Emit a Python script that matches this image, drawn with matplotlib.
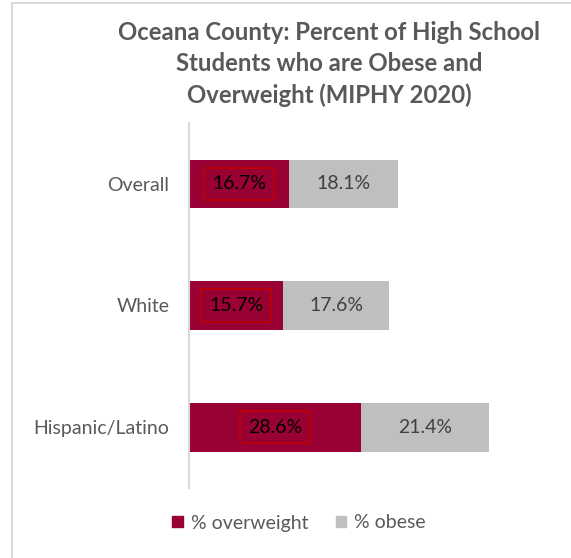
import matplotlib
matplotlib.use("Agg")
import matplotlib.pyplot as plt
from matplotlib.patches import Rectangle, Patch

categories = ["Overall", "White", "Hispanic/Latino"]
overweight = [16.7, 15.7, 28.6]
obese = [18.1, 17.6, 21.4]
series_names = ["% overweight", "% obese"]
title = "Oceana County: Percent of High School\nStudents who are Obese and\nOverweight (MIPHY 2020)"

C_OVER = "#990033"
C_OBESE = "#BFBFBF"
TXT = "#595959"

plt.rcParams['font.family'] = ['Lato', 'DejaVu Sans']

W, H = 571, 558
fig = plt.figure(figsize=(W/100, H/100), dpi=100)
fig.patch.set_facecolor("white")

# chart border (left/top visible)
fig.patches.append(Rectangle((11.5/W, -0.05), 1.2, (H-2.5)/H + 0.05, transform=fig.transFigure,
                             fill=False, edgecolor="#D9D9D9", linewidth=1.5))

ax = fig.add_axes([189/W, (H-488)/H, 360/W, 365/H])
y = list(range(len(categories)))
ax.barh(y, overweight, height=0.4, color=C_OVER, label=series_names[0])
ax.barh(y, obese, left=overweight, height=0.4, color=C_OBESE, label=series_names[1])
ax.set_ylim(2.5, -0.5)
ax.set_xlim(0, 60)

for i, (a, b) in enumerate(zip(overweight, obese)):
    ax.text(a/2, i, f"{a:.1f}%", ha="center", va="center", fontsize=14, color="black",
            bbox=dict(boxstyle="square,pad=0.4", fc="none", ec="#C00000", lw=1.2))
    ax.text(a + b/2, i, f"{b:.1f}%", ha="center", va="center", fontsize=14, color="#404040")

ax.set_yticks(y)
ax.set_yticklabels(categories, fontsize=14, color=TXT)
ax.tick_params(axis="y", length=0, pad=14)
ax.set_xticks([])
for s in ["top", "right", "bottom"]:
    ax.spines[s].set_visible(False)
ax.spines["left"].set_color("#D9D9D9")
ax.spines["left"].set_linewidth(1.5)

fig.text(329/W, 1 - 64/H, title, ha="center", va="center", fontsize=17.2, fontweight="bold",
         color=TXT, linespacing=1.45)

handles = [Patch(color=C_OVER), Patch(color=C_OBESE)]
fig.legend(handles, series_names, loc="center", bbox_to_anchor=(299/W, 1 - 523/H), ncol=2,
           frameon=False, fontsize=14, labelcolor=TXT, handlelength=0.55, handleheight=0.55,
           handletextpad=0.4, columnspacing=1.4)

fig.savefig("out.png", dpi=100, facecolor="white")
